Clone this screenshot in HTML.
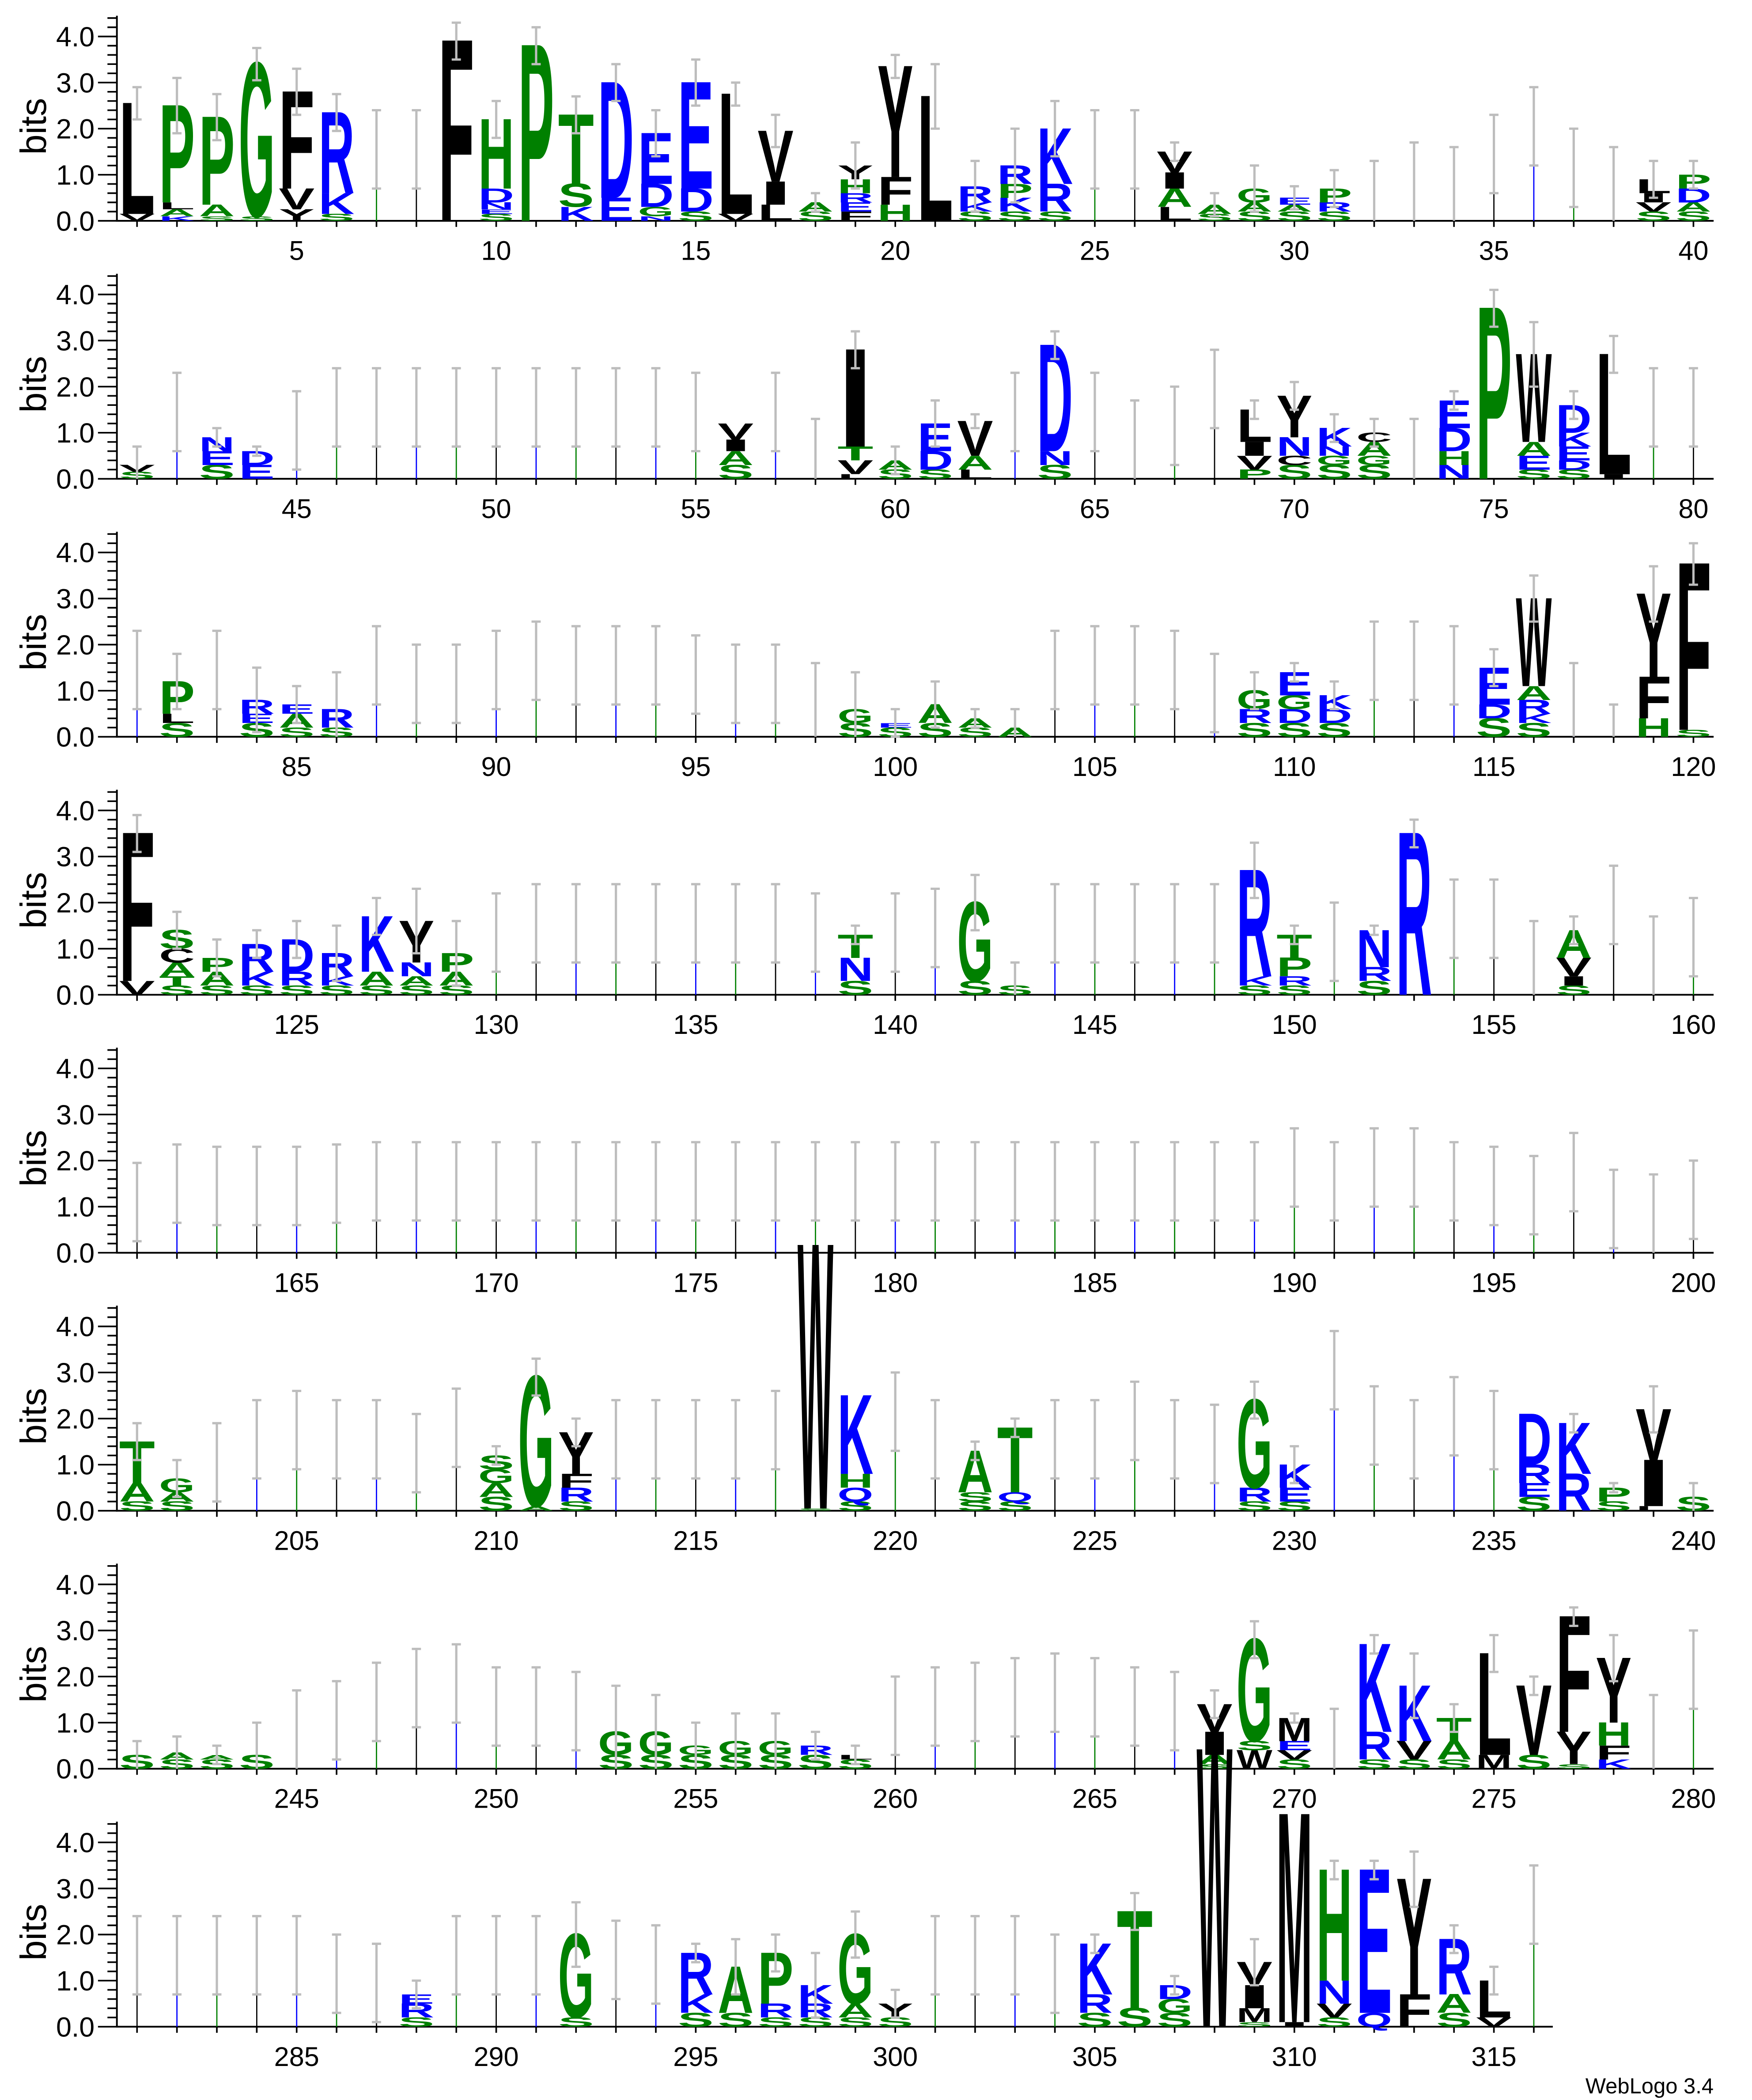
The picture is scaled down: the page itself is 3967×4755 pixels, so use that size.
<!DOCTYPE html>
<html><head><meta charset="utf-8">
<style>
html,body{margin:0;padding:0;background:#fff;}
#c{width:3967px;height:4750px;}
svg text{font-family:"Liberation Sans",Arial,sans-serif;}
.b{font-weight:bold;font-size:100px;}
</style></head>
<body><div id="c"></div>
<script>
var S={1:"V.15L2.4:2.9",2:"K.1A.15L.15P2.1:3.1",3:"S.1A.25P1.9:2.75",4:"S.1G3.3:3.75",5:"Y.25V.45F2.1:3.3",6:"S.15K.45R1.75:2.75",
9:"F3.9:4.3",10:"S.15E.1N.15D.3H1.5:2.6",11:"P3.8:4.2",12:"K.3S.5T1.5:2.7",13:"E.5D2.5:3.4",14:"N.1G.2D.5E1.1:2.4",15:"S.2D.5E2.3:3.5",16:"V.15L2.6:3.0",17:"L.35I.5V1.1:2.3",18:"S.2A.2:.6",19:"F.2E.2R.2H.3Y.3:1.7",20:"H.35F.6Y2.4:3.6",21:"L2.7:3.4",22:"S.2K.2R.35:1.3",23:"S.2K.3P.3R.4:2.0",24:"S.2R.6K1.2:2.6",
27:"L.3A.4I.35V.45:1.7",28:"S.15A.2:.6",29:"S.2A.2G.3:1.2",30:"S.2A.15E.15:.75",31:"S.2R.2P.3:1.1",32:":1.3",33:":1.7",34:":1.6",35:":2.3",36:":2.9",37:":2.0",38:":1.6",39:"S.2V.2I.2L.3:1.3",40:"S.2A.2D.3P.3:1.3",
41:"S.15V.15:.7",42:":2.3",43:"S.3E.3N.3:1.1",44:"E.3D.3:.7",45:":1.9",55:":2.3",56:"S.3A.3I.25V.35:1.1",57:":2.3",58:":1.3",59:"L.1V.3T.3I2.1:3.2",60:"S.2A.2:.7",61:"S.2D.4E.6:1.7",62:"L.2A.3V.75:1.4",63:":2.3",64:"S.3N.3D2.3:3.2",65:":2.3",66:":1.7",67:":2.0",68:":2.8",69:"P.2V.3I.3L.7:1.7",70:"S.3C.2N.4Y.9:2.1",71:"S.3G.2N.2K.4:1.4",72:"S.3G.2A.3C.2:1.3",73:":1.3",74:"N.3H.3D.5E.6:1.9",75:"P3.7:4.1",76:"S.2E.3A.3W1.9:3.4",77:"S.2D.2E.3K.3D.6:1.9",78:"I.1L2.6:3.1",
81:":2.3",82:"S.3L.2P.7:1.8",83:":2.3",84:"S.3E.2R.3:1.5",85:"S.2A.3E.2:1.1",86:"S.2R.4:1.4",88:":2.0",89:":2.0",90:":2.3",91:":2.5",95:":2.2",96:":2.0",97:":2.0",98:":1.6",99:"S.3G.3:1.4",100:"S.2E.1:.6",101:"S.3A.4:1.2",102:"S.2A.2:.6",103:"A.2:.6",104:":2.3",107:":2.3",108:":1.8",109:"S.3R.3G.4:1.4",110:"S.3D.3G.3E.5:1.6",111:"S.3D.3K.3:1.2",112:":2.5",113:":2.5",115:"S.4D.3E.8:1.9",116:"S.3K.2R.3A.3W1.9:3.5",117:":1.6",118:":.7",119:"H.4F.9Y1.8:3.7",120:"S.15F3.6:4.2",
121:"V.3F3.2:3.9",122:"S.2T.2A.3C.3S.4:1.8",123:"S.2A.3P.3:1.2",124:"S.2K.3R.6:1.4",125:"S.2R.3D.7:1.6",126:"S.2K.2R.5:1.5",127:"S.2A.3K1.2:2.1",128:"S.2A.2N.3Y.9:2.3",129:"S.2A.3P.4:1.6",130:":2.2",138:":2.2",139:"S.3N.5T.5:1.5",140:":2.2",141:":2.3",142:"S.3G1.7:2.6",143:"S.2:.7",149:"S.2K.2R2.3:3.3",150:"S.2R.2P.4T.5:1.5",151:":2.0",152:"S.3R.3N.8:1.5",153:"R3.5:3.8",154:":2.5",155:":2.5",156:":1.6",157:"S.2I.2V.4A.6:1.7",158:":2.8",159:":1.7",160:":2.1",
161:":1.95",162:":2.35",163:":2.3",164:":2.3",165:":2.3",166:":2.35",167:":2.4",168:":2.4",169:":2.4",170:":2.4",190:":2.7",192:":2.7",193:":2.7",195:":2.3",196:":2.1",197:":2.6",198:":1.8",199:":1.7",200:":2.0",
201:"S.2A.4T.9:1.9",202:"S.2A.2G.3:1.1",203:":1.9",205:":2.6",208:":2.1",209:":2.65",210:"S.3A.3G.3S.3:1.4",211:"A.1G2.8:3.3",212:"S.2R.3F.3Y.9:2.0",217:":2.6",218:"S.05W5.7:5.75",219:"S.2Q.3H.3K1.7:2.5",220:":3.0",222:"S.2S.2A.9:1.5",223:"S.2Q.2T1.4:2.0",226:":2.8",228:":2.3",229:"S.2R.3G1.9:2.8",230:"S.2E.3K.5:1.4",231:":3.9",232:":2.7",234:":2.9",235:":2.6",236:"S.3E.3R.4D1.1:1.9",237:"R.8K1.1:2.1",238:"S.2P.3:.6",239:"L.1I1.0V1.1:2.7",240:"S.3:.6",
241:"S.3:.6",242:"S.2A.15:.7",243:"S.2A.1:.5",244:"S.3:1.0",245:":1.7",246:":1.9",247:":2.3",248:":2.6",249:":2.7",250:":2.2",251:":2.2",252:":2.1",253:"S.3G.5:1.8",254:"S.3G.5:1.6",255:"S.3G.2:1.0",256:"S.3G.3:1.2",257:"S.3G.3:1.2",258:"S.3R.2:.8",259:"S.2L.1:.5",260:":2.0",261:":2.2",262:":2.3",264:":2.5",266:":2.2",267:":2.1",268:"S.1A.2I.5V.6:1.7",269:"W.4S.2G2.2:3.2",270:"S.2V.2E.2M.5:1.2",271:":1.3",272:"S.2R.6K1.9:2.9",273:"S.2V.4K1.2:2.5",274:"S.2A.4T.5:1.4",275:"M.3L2.2:2.9",276:"S.3V1.5:2.0",277:"S.1Y.7F2.5:3.5",278:"K.2F.3H.5Y1.4:2.9",279:":1.6",280:":3.0",
286:":2.0",287:":1.8",288:"S.2R.3E.2:1.0",292:"S.2G1.8:2.7",293:":2.3",294:":2.2",295:"S.3K.4R.9:1.8",296:"S.3A1.0:1.9",297:"S.2R.3P1.1:2.0",298:"S.2R.3K.4:1.6",299:"S.2A.3G1.5:2.5",300:"S.2Y.3:.8",304:":2.0",305:"S.3R.4K1.1:2.0",306:"S.4T2.1:2.9",307:"S.3G.3D.3:1.1",308:"W6.0:6.0",309:"S.1M.3I.5V.5:1.9",310:"I.1M4.5:4.6",311:"S.2V.3N.5H2.4:3.6",312:"Q.3E3.1:3.6",313:"F.7Y2.5:3.8",314:"S.3A.4R1.2:2.2",315:"V.2L.8:1.3",316:":3.5"};
function col(c){if("YVLFIWMC".indexOf(c)>=0)return"#000";if("RKDENQ".indexOf(c)>=0)return"#0000ff";return"#008000";}
var B=34.1,X0=101.4,DX=29.53,AX=86.5,o='';
var thin=["#0000ff","#008000","#000"];
for(var r=0;r<8;r++){
 var z=163.4+190.9*r;
 var xe=(r<7)?1268:1149;
 o+='<line x1="'+AX+'" y1="'+(z+0.6)+'" x2="'+AX+'" y2="'+(z-4.45*B)+'" stroke="#000" stroke-width="1.3"/>';
 o+='<line x1="'+(AX-0.6)+'" y1="'+z+'" x2="'+xe+'" y2="'+z+'" stroke="#000" stroke-width="1.3"/>';
 for(var k=0;k<=22;k++){var y=z-k*0.2*B;var L=(k%5==0)?14:7;
  o+='<line x1="'+(AX-L)+'" y1="'+y+'" x2="'+AX+'" y2="'+y+'" stroke="#000" stroke-width="1.2"/>';
  if(k%5==0&&k<=20)o+='<text x="70" y="'+(y+7.3)+'" font-size="20.5" text-anchor="end">'+(k/5).toFixed(1)+'</text>';}
 o+='<text transform="translate(34,'+(z-2.05*B)+') rotate(-90)" font-size="27" text-anchor="middle">bits</text>';
 for(var i=1;i<=40;i++){var p=40*r+i;if(p>316)break;var cx=X0+(i-1)*DX;
  o+='<line x1="'+cx+'" y1="'+z+'" x2="'+cx+'" y2="'+(z+4.5)+'" stroke="#000" stroke-width="1.2"/>';
  if(p%5==0)o+='<text x="'+cx+'" y="'+(z+29)+'" font-size="20" text-anchor="middle">'+p+'</text>';
  var s=S[p]||":2.4";var parts=s.split(":");var err=parseFloat(parts[1]);
  var re=/([A-Z])([\d.]+)/g,m,yb=z,tot=0,w=26.5;
  var lets=[];while((m=re.exec(parts[0]))!==null)lets.push([m[1],parseFloat(m[2])]);
  for(var j=0;j<lets.length;j++){var hp=lets[j][1]*B;
   o+='<text class="b" transform="matrix('+(w/100)+' 0 0 '+(hp/68.6)+' '+(cx-w/2)+' '+yb+')" textLength="100" lengthAdjust="spacingAndGlyphs" fill="'+col(lets[j][0])+'">'+lets[j][0]+'</text>';
   yb-=hp;tot+=lets[j][1];}
  var lo,hi;
  if(lets.length==0){var c=Math.max(0.3,err-0.85);
   o+='<line x1="'+cx+'" y1="'+z+'" x2="'+cx+'" y2="'+(z-c*B)+'" stroke="'+thin[p%3]+'" stroke-width="0.9"/>';
   lo=c-0.85;hi=err;}
  else{hi=err;lo=2*tot-err;}
  lo=Math.max(0,lo);
  if(hi>tot+0.02){
   var y1=z-hi*B,y2=z-lo*B;
   o+='<line x1="'+cx+'" y1="'+y1+'" x2="'+cx+'" y2="'+y2+'" stroke="#bdbdbd" stroke-width="1.7"/>';
   o+='<line x1="'+(cx-3.4)+'" y1="'+y1+'" x2="'+(cx+3.4)+'" y2="'+y1+'" stroke="#bdbdbd" stroke-width="1.7"/>';
   if(lo>0)o+='<line x1="'+(cx-3.4)+'" y1="'+y2+'" x2="'+(cx+3.4)+'" y2="'+y2+'" stroke="#bdbdbd" stroke-width="1.7"/>';}
 }
}
o+='<text x="1268" y="1549" font-size="16" text-anchor="end">WebLogo 3.4</text>';
document.getElementById('c').innerHTML='<svg width="3967" height="4750" viewBox="0 0 1296.4 1552.3" preserveAspectRatio="none"><rect width="1296.4" height="1552.3" fill="#fff"/>'+o+'</svg>';
</script>
</body></html>
